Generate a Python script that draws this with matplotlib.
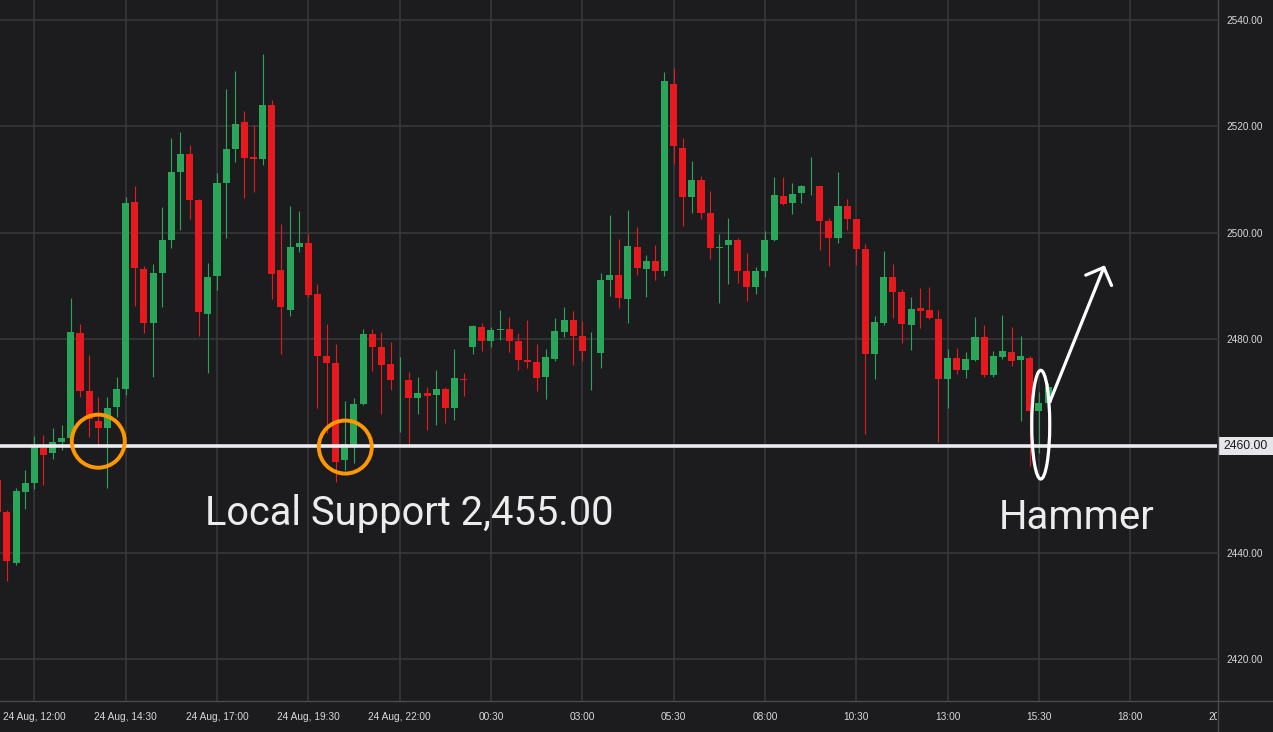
import matplotlib
matplotlib.use("Agg")
import matplotlib.pyplot as plt
import numpy as np
from matplotlib.patches import Ellipse, Rectangle
from matplotlib.lines import Line2D
from matplotlib.transforms import Bbox, TransformedBbox

# 15 minute candles, index 0 = 24 Aug 12:00 (first candle is index -4)
first_idx = -4
opens = [2453.6, 2447.7, 2438.1, 2451.4, 2453.1, 2459.6, 2458.6, 2460.7, 2461.5, 2481.2,
         2470.3, 2464.7, 2463.4, 2467.3, 2470.7, 2505.7, 2493.2, 2483.1, 2492.4, 2498.6,
         2511.5, 2514.7, 2506.1, 2484.7, 2491.9, 2509.3, 2515.7, 2520.7, 2514.1, 2513.8,
         2523.9, 2493.0, 2485.5, 2497.3, 2498.0, 2488.5, 2476.9, 2475.6, 2457.4, 2459.9,
         2467.9, 2481.0, 2478.6, 2475.4, 2472.4, 2472.4, 2469.0, 2469.9, 2469.6, 2470.7,
         2467.1, 2472.6, 2478.6, 2482.3, 2479.7, 2481.7, 2481.9, 2479.7, 2476.1, 2475.7,
         2472.9, 2476.3, 2481.4, 2483.6, 2480.6, 2477.8, 2477.4, 2491.1, 2492.1, 2487.6,
         2497.3, 2493.2, 2494.7, 2492.8, 2528.0, 2516.0, 2506.7, 2509.9, 2503.7, 2497.1,
         2497.7, 2498.6, 2492.8, 2489.8, 2492.8, 2498.6, 2506.9, 2505.5, 2507.4, 2507.0,
         2508.7, 2502.2, 2499.0, 2505.0, 2502.5, 2496.9, 2477.2, 2483.1, 2491.7, 2488.9,
         2482.7, 2485.9, 2485.5, 2483.8, 2472.6, 2476.5, 2474.2, 2476.1, 2480.4, 2473.3,
         2476.7, 2477.6, 2476.1, 2476.5, 2466.6, 2468.0]
highs = [2455.0, 2448.0, 2452.1, 2455.5, 2461.9, 2462.1, 2463.4, 2463.9, 2487.7, 2482.9,
         2477.1, 2469.2, 2469.2, 2472.9, 2506.7, 2508.7, 2493.7, 2494.1, 2504.8, 2517.7,
         2519.0, 2516.4, 2506.3, 2494.3, 2511.2, 2526.9, 2530.3, 2522.8, 2520.2, 2533.5,
         2525.0, 2501.6, 2505.0, 2504.0, 2499.7, 2490.4, 2482.9, 2479.1, 2468.4, 2469.0,
         2481.9, 2481.9, 2481.4, 2479.5, 2476.7, 2473.9, 2472.9, 2471.1, 2474.2, 2471.1,
         2478.2, 2473.7, 2482.7, 2483.1, 2482.3, 2485.5, 2484.2, 2481.2, 2483.6, 2479.1,
         2478.2, 2484.0, 2486.1, 2485.3, 2483.4, 2481.4, 2492.4, 2503.3, 2498.8, 2504.2,
         2501.0, 2495.8, 2497.7, 2530.1, 2531.0, 2517.7, 2513.4, 2510.6, 2507.8, 2499.7,
         2502.7, 2499.0, 2496.2, 2493.6, 2500.3, 2510.4, 2510.4, 2509.3, 2508.9, 2514.2,
         2508.8, 2502.7, 2511.4, 2506.3, 2502.6, 2497.9, 2484.4, 2496.6, 2494.1, 2489.4,
         2487.9, 2489.6, 2489.8, 2485.5, 2478.2, 2478.4, 2477.6, 2484.2, 2482.7, 2477.8,
         2484.6, 2482.3, 2480.6, 2476.9, 2470.1, 2471.8]
lows = [2446.5, 2434.6, 2437.6, 2448.2, 2451.9, 2452.6, 2457.6, 2459.3, 2461.0, 2469.1,
        2461.6, 2460.2, 2452.2, 2465.5, 2469.6, 2486.3, 2481.2, 2472.9, 2486.1, 2497.1,
        2500.5, 2502.5, 2480.6, 2473.6, 2489.2, 2499.0, 2513.2, 2506.5, 2507.6, 2512.7,
        2487.6, 2477.2, 2484.4, 2496.4, 2488.0, 2467.1, 2462.5, 2453.3, 2455.5, 2456.8,
        2467.7, 2474.1, 2466.0, 2470.5, 2462.6, 2460.2, 2466.0, 2463.0, 2463.9, 2464.3,
        2464.9, 2469.4, 2477.2, 2477.8, 2478.6, 2479.9, 2477.6, 2474.2, 2474.6, 2470.3,
        2468.8, 2475.9, 2480.4, 2475.2, 2475.9, 2470.5, 2474.6, 2488.1, 2485.9, 2483.1,
        2492.1, 2487.9, 2491.1, 2491.9, 2512.9, 2501.2, 2503.7, 2502.5, 2495.1, 2486.8,
        2490.4, 2490.6, 2487.2, 2488.5, 2491.7, 2498.4, 2505.2, 2503.5, 2505.5, 2507.0,
        2496.7, 2493.7, 2498.0, 2500.5, 2493.9, 2462.2, 2472.6, 2482.7, 2484.0, 2479.3,
        2478.0, 2482.1, 2483.9, 2460.7, 2467.1, 2473.5, 2472.7, 2476.0, 2472.9, 2472.9,
        2476.3, 2475.0, 2464.7, 2456.3, 2458.7, 2467.8]
closes = [2447.7, 2438.4, 2451.6, 2453.1, 2459.9, 2458.3, 2460.7, 2461.5, 2481.4, 2470.3,
          2465.0, 2463.4, 2467.1, 2470.7, 2505.5, 2493.4, 2483.1, 2492.4, 2498.6, 2511.5,
          2514.7, 2506.1, 2485.1, 2491.7, 2509.3, 2515.7, 2520.5, 2514.0, 2513.9, 2523.9,
          2492.2, 2486.1, 2497.3, 2498.0, 2488.3, 2476.9, 2475.6, 2457.0, 2460.3, 2467.9,
          2481.0, 2478.6, 2475.2, 2472.4, 2472.4, 2469.0, 2469.9, 2469.4, 2470.7, 2467.1,
          2472.7, 2472.4, 2482.5, 2479.7, 2481.7, 2481.9, 2479.7, 2476.1, 2475.8, 2472.7,
          2476.7, 2481.6, 2483.6, 2480.6, 2477.8, 2477.8, 2491.1, 2492.1, 2487.7, 2497.5,
          2493.4, 2494.7, 2492.8, 2528.4, 2516.2, 2506.7, 2509.9, 2503.7, 2497.1, 2497.4,
          2498.6, 2492.8, 2489.8, 2492.8, 2498.6, 2507.0, 2505.4, 2507.2, 2508.7, 2507.0,
          2502.2, 2499.0, 2505.0, 2502.5, 2496.9, 2477.2, 2483.2, 2491.7, 2488.9, 2482.9,
          2485.7, 2485.3, 2484.0, 2472.6, 2476.5, 2474.2, 2476.3, 2480.4, 2473.3, 2476.9,
          2477.8, 2475.9, 2476.9, 2466.6, 2468.1, 2471.0]

tick_labels = ["24 Aug, 12:00", "24 Aug, 14:30", "24 Aug, 17:00", "24 Aug, 19:30",
               "24 Aug, 22:00", "00:30", "03:00", "05:30", "08:00", "10:30", "13:00",
               "15:30", "18:00", "20:30"]
price_ticks = [2420, 2440, 2460, 2480, 2500, 2520, 2540]
support_level = 2460

bg = "#1c1c1e"
green = "#2aa65a"
red = "#e61a1e"

W, H = 1273, 732
fig = plt.figure(figsize=(W / 100, H / 100), dpi=100, facecolor=bg)
ax = fig.add_axes([0, 31 / H, 1217 / W, 701 / H])
ax.set_facecolor(bg)

o = np.array(opens)
h = np.array(highs)
l = np.array(lows)
c = np.array(closes)
x = np.arange(first_idx, first_idx + len(o))
cols = np.where(c >= o, green, red)

ax.vlines(x, l, h, colors=cols, lw=0.8, zorder=3)
body = np.where(o == c, 0, np.maximum(np.abs(c - o), 0.25))
ax.bar(x, body, bottom=np.minimum(o, c), width=0.77, color=cols, lw=0, zorder=4)

ax.set_xlim(-3.76, 129.5)
ax.set_ylim(2412.15, 2543.68)

# grid / ticks
xt = np.arange(0, 130, 10)
ax.set_xticks(xt)
ax.set_xticklabels(tick_labels[:len(xt)])
ax.set_yticks(price_ticks)
ax.set_yticklabels(["" if p == support_level else f"{p:.2f}" for p in price_ticks])
ax.yaxis.tick_right()
ax.grid(True, color="#3a3a3d", lw=1.1, zorder=0)
ax.set_axisbelow(True)
ax.tick_params(axis="x", length=0, pad=8, labelsize=7.3, labelcolor="#d8d8d8")
ax.tick_params(axis="y", length=0, pad=7, labelsize=7.2, labelcolor="#d8d8d8")
for lab in ax.get_xticklabels() + ax.get_yticklabels():
    lab.set_family("Liberation Sans")
for s in ax.spines.values():
    s.set_visible(False)

# axis frame lines
fig.add_artist(Line2D([1217.5 / W] * 2, [0, 1], transform=fig.transFigure, color="#4a4a4d", lw=1))
fig.add_artist(Line2D([0, 1], [(H - 701) / H] * 2, transform=fig.transFigure, color="#4a4a4d", lw=1))

# cut off last time label
last_x = ax.transData.transform((130, 0))[0] / W
t = fig.text(last_x, (H - 717) / H, tick_labels[-1], ha="center", va="center",
             fontsize=7.3, color="#d8d8d8", family="Liberation Sans")
t.set_clip_box(TransformedBbox(Bbox([[0, 0], [1217 / W, 1]]), fig.transFigure))

# support line + price box
ax.axhline(support_level, color="#ececf0", lw=2.6, zorder=6)
fig.add_artist(Rectangle((1218 / W, (H - 455) / H), 55 / W, 18 / H, transform=fig.transFigure,
                         fc="#e6e6ea", ec="none"))
fig.text(1245.5 / W, (H - 446) / H, f"{support_level:.2f}", ha="center", va="center",
         fontsize=8.8, color=bg, family="Liberation Sans")

# annotations
for cx, cy in [(7.0, 2460.9), (34.05, 2459.8)]:
    ax.add_patch(Ellipse((cx, cy), 5.8, 9.95, fill=False, ec="#ff9800", lw=2.8, zorder=7))
ax.add_patch(Ellipse((110.2, 2464.0), 1.97, 20.4, fill=False, ec="white", lw=2.3, zorder=7))
ax.annotate("", xy=(117.2, 2493.9), xytext=(111.2, 2468.3),
            arrowprops=dict(arrowstyle="->,head_length=1.0,head_width=1.0", mutation_scale=10,
                            color="white", lw=2.3, shrinkA=0, shrinkB=0), zorder=8)

ax.text(41.0, 2445.1, "Local Support 2,455.00", ha="center", va="baseline",
        fontsize=28.7, color="#ececec", family="Roboto", zorder=8)
ax.text(114.15, 2444.5, "Hammer", ha="center", va="baseline",
        fontsize=28.9, color="#ececec", family="Roboto", zorder=8)

fig.savefig("out.png", dpi=100, facecolor=bg)
